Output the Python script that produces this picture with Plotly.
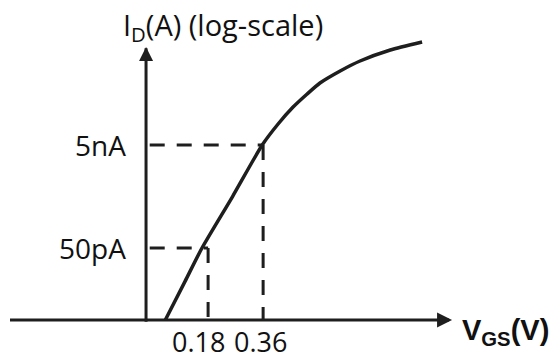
import math
import plotly.graph_objects as go

# ---- data ----
vgs = [0.04, 0.105, 0.16, 0.26, 0.357, 0.409, 0.458, 0.504, 0.546, 0.612, 0.677, 0.776, 0.88]
i_d = [2e-12, 1.14e-11, 5e-11, 5e-10, 5e-9, 1.28e-8, 2.73e-8, 4.9e-8, 8.0e-8, 1.37e-7, 2.14e-7, 3.5e-7, 5e-7]

mark_vgs = [0.18, 0.36]
mark_vgs_labels = ["0.18", "0.36"]
mark_id = [5e-11, 5e-9]
mark_id_labels = ["50pA", "5nA"]

# axis geometry (data units)
X_AXIS_Y = 2e-12        # where the V_GS axis sits
Y_AXIS_X = -0.023       # where the I_D axis sits
X_AXIS_START = -0.468
X_AXIS_END = 0.978
Y_AXIS_BOTTOM = 1.85e-12
Y_AXIS_TOP = 4.0e-7

LINE = "#1e1e1e"
TEXT = "#111111"

fig = go.Figure()

# axes (lines + arrow heads)
fig.add_trace(go.Scatter(
    x=[X_AXIS_START, X_AXIS_END - 0.01], y=[X_AXIS_Y, X_AXIS_Y], mode="lines",
    line=dict(color=LINE, width=3), hoverinfo="skip"))
fig.add_trace(go.Scatter(
    x=[X_AXIS_END], y=[X_AXIS_Y], mode="markers",
    marker=dict(symbol="arrow-right", size=15, color=LINE, line=dict(width=0)),
    hoverinfo="skip"))
fig.add_trace(go.Scatter(
    x=[Y_AXIS_X, Y_AXIS_X], y=[Y_AXIS_BOTTOM, Y_AXIS_TOP * 0.95], mode="lines",
    line=dict(color=LINE, width=3), hoverinfo="skip"))
fig.add_trace(go.Scatter(
    x=[Y_AXIS_X], y=[Y_AXIS_TOP], mode="markers",
    marker=dict(symbol="arrow-up", size=14, color=LINE, line=dict(width=0)),
    hoverinfo="skip"))

# dashed guide lines
for v, i in zip(mark_vgs, mark_id):
    fig.add_trace(go.Scatter(
        x=[Y_AXIS_X + 0.012, v], y=[i, i], mode="lines",
        line=dict(color=LINE, width=3, dash="15px,12px"), hoverinfo="skip"))
    fig.add_trace(go.Scatter(
        x=[v, v], y=[i, X_AXIS_Y], mode="lines",
        line=dict(color=LINE, width=3, dash="15px,12px"), hoverinfo="skip"))

# transfer curve
fig.add_trace(go.Scatter(
    x=vgs, y=i_d, mode="lines",
    line=dict(color=LINE, width=3.5, shape="spline", smoothing=0.6),
    hoverinfo="skip"))

annotations = []
# y labels
for i, lab in zip(mark_id, mark_id_labels):
    annotations.append(dict(
        x=Y_AXIS_X, y=math.log10(i), xref="x", yref="y", text=lab,
        showarrow=False, xanchor="right", yanchor="middle", xshift=-18,
        font=dict(family="Open Sans", size=28, color=TEXT)))

# x labels
for v, lab, sh in zip(mark_vgs, mark_vgs_labels, [-10, -3]):
    annotations.append(dict(
        x=v, y=math.log10(X_AXIS_Y), xref="x", yref="y", text=lab,
        showarrow=False, xanchor="center", yanchor="middle", xshift=sh, yshift=-21,
        font=dict(family="Open Sans", size=27, color=TEXT)))

# axis titles
annotations.append(dict(
    x=121 / 557, y=1 - 3 / 359, xref="paper", yref="paper",
    text="I<sub>D</sub>(A) (log-scale)", showarrow=False,
    xanchor="left", yanchor="top",
    font=dict(family="Open Sans", size=29, color=TEXT)))
annotations.append(dict(
    x=460 / 557, y=1 - 312 / 359, xref="paper", yref="paper",
    text="<b>V<sub>GS</sub>(V)</b>", showarrow=False,
    xanchor="left", yanchor="top",
    font=dict(family="Liberation Sans", size=29, color=TEXT)))

fig.update_layout(
    width=557, height=359,
    margin=dict(l=0, r=0, t=0, b=0),
    plot_bgcolor="white", paper_bgcolor="white",
    showlegend=False,
    xaxis=dict(range=[-0.5007, 1.3213], visible=False, fixedrange=True),
    yaxis=dict(type="log", range=[-12.456, -5.485], visible=False, fixedrange=True),
    annotations=annotations,
)

fig.write_html(
    "out.html",
    config={"displayModeBar": False},
    post_script="document.body.style.margin='0';document.body.style.overflow='hidden';",
)
